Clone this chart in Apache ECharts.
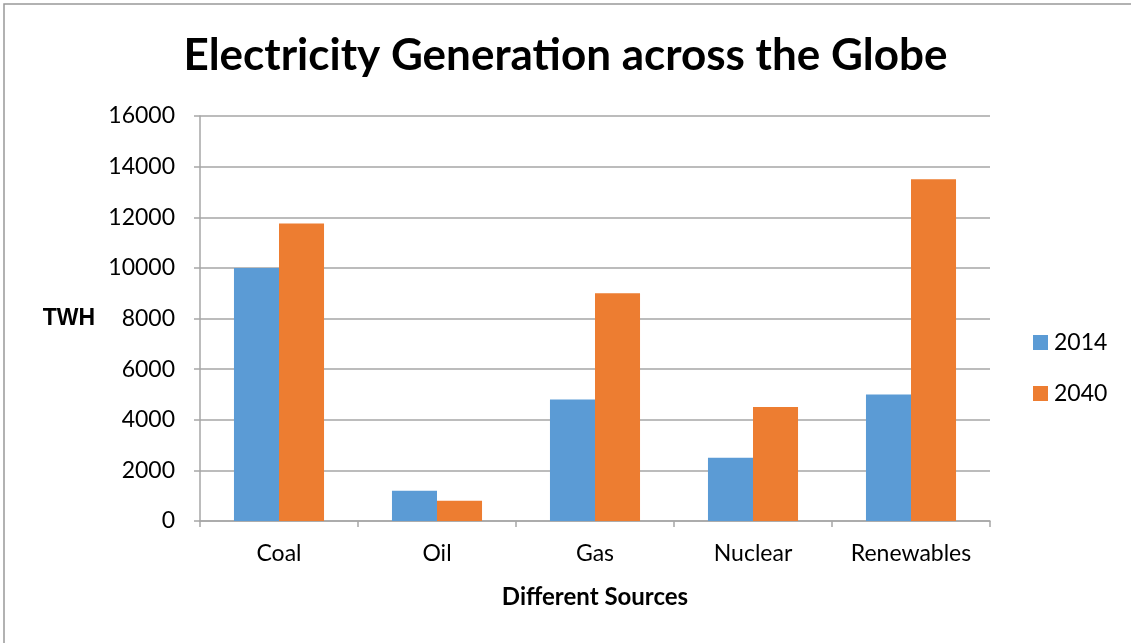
<!DOCTYPE html>
<html>
<head>
<meta charset="utf-8">
<title>Electricity Generation across the Globe</title>
<script src="https://cdn.jsdelivr.net/npm/echarts@6/dist/echarts.min.js"></script>
<style>
  html, body { margin: 0; padding: 0; background: #ffffff; }
  #chart { width: 1131px; height: 643px; }
</style>
</head>
<body>
<div id="chart"></div>
<script>
// Electricity generation by source, in TWh
const categories = ['Coal', 'Oil', 'Gas', 'Nuclear', 'Renewables'];
const seriesNames = ['2014', '2040'];
const values2014 = [10000, 1200, 4800, 2500, 5000];
const values2040 = [11750, 800, 9000, 4500, 13500];

const FONT = 'Lato, "Noto Sans", sans-serif';
const GRID_COLOR = '#a6a6a6';

const chart = echarts.init(document.getElementById('chart'), null, { renderer: 'canvas' });

chart.setOption({
  backgroundColor: '#ffffff',
  animation: false,
  title: {
    text: 'Electricity Generation across the Globe',
    left: 'center',
    top: 29,
    textStyle: { fontFamily: FONT, fontSize: 44, fontWeight: 'bold', color: '#000000' }
  },
  legend: {
    orient: 'vertical',
    left: 1028,
    top: 326,
    itemWidth: 15,
    itemHeight: 15,
    itemGap: 28,
    icon: 'rect',
    data: seriesNames,
    textStyle: { fontFamily: FONT, fontSize: 23, color: '#000000', padding: [0, 0, 0, 1] }
  },
  grid: { left: 200, right: 141, top: 116, bottom: 122, containLabel: false },
  xAxis: {
    type: 'category',
    data: categories,
    name: 'Different Sources',
    nameLocation: 'middle',
    nameGap: 64,
    nameTextStyle: { fontFamily: FONT, fontSize: 24, fontWeight: 'bold', color: '#000000' },
    axisLine: { lineStyle: { color: GRID_COLOR, width: 1.5 } },
    axisTick: { show: true, length: 6, alignWithLabel: false, lineStyle: { color: GRID_COLOR, width: 1.5 } },
    axisLabel: { fontFamily: FONT, fontSize: 23, color: '#000000', margin: 21 }
  },
  yAxis: {
    type: 'value',
    min: 0,
    max: 16000,
    interval: 2000,
    name: 'TWH',
    nameLocation: 'middle',
    nameRotate: 0,
    nameGap: 105,
    nameTextStyle: { fontFamily: 'Arial, "Liberation Sans", sans-serif', fontSize: 23, fontWeight: 'bold', color: '#000000' },
    axisLine: { show: true, lineStyle: { color: GRID_COLOR, width: 1.5 } },
    axisTick: { show: true, length: 6, lineStyle: { color: GRID_COLOR, width: 1.5 } },
    axisLabel: {
      fontFamily: FONT, fontSize: 23, color: '#000000', margin: 25,
      formatter: (v) => String(v)
    },
    splitLine: { show: true, lineStyle: { color: GRID_COLOR, width: 1.5 } }
  },
  series: [
    {
      name: seriesNames[0],
      type: 'bar',
      data: values2014,
      barGap: '0%',
      barCategoryGap: '43%',
      itemStyle: { color: '#5b9bd5' }
    },
    {
      name: seriesNames[1],
      type: 'bar',
      data: values2040,
      barGap: '0%',
      barCategoryGap: '43%',
      itemStyle: { color: '#ed7d31' }
    }
  ],
  graphic: [
    {
      type: 'rect',
      silent: true,
      shape: { x: 4, y: 4, width: 1140, height: 660 },
      style: { fill: 'none', stroke: '#999999', lineWidth: 1.5 }
    }
  ]
});
</script>
</body>
</html>
